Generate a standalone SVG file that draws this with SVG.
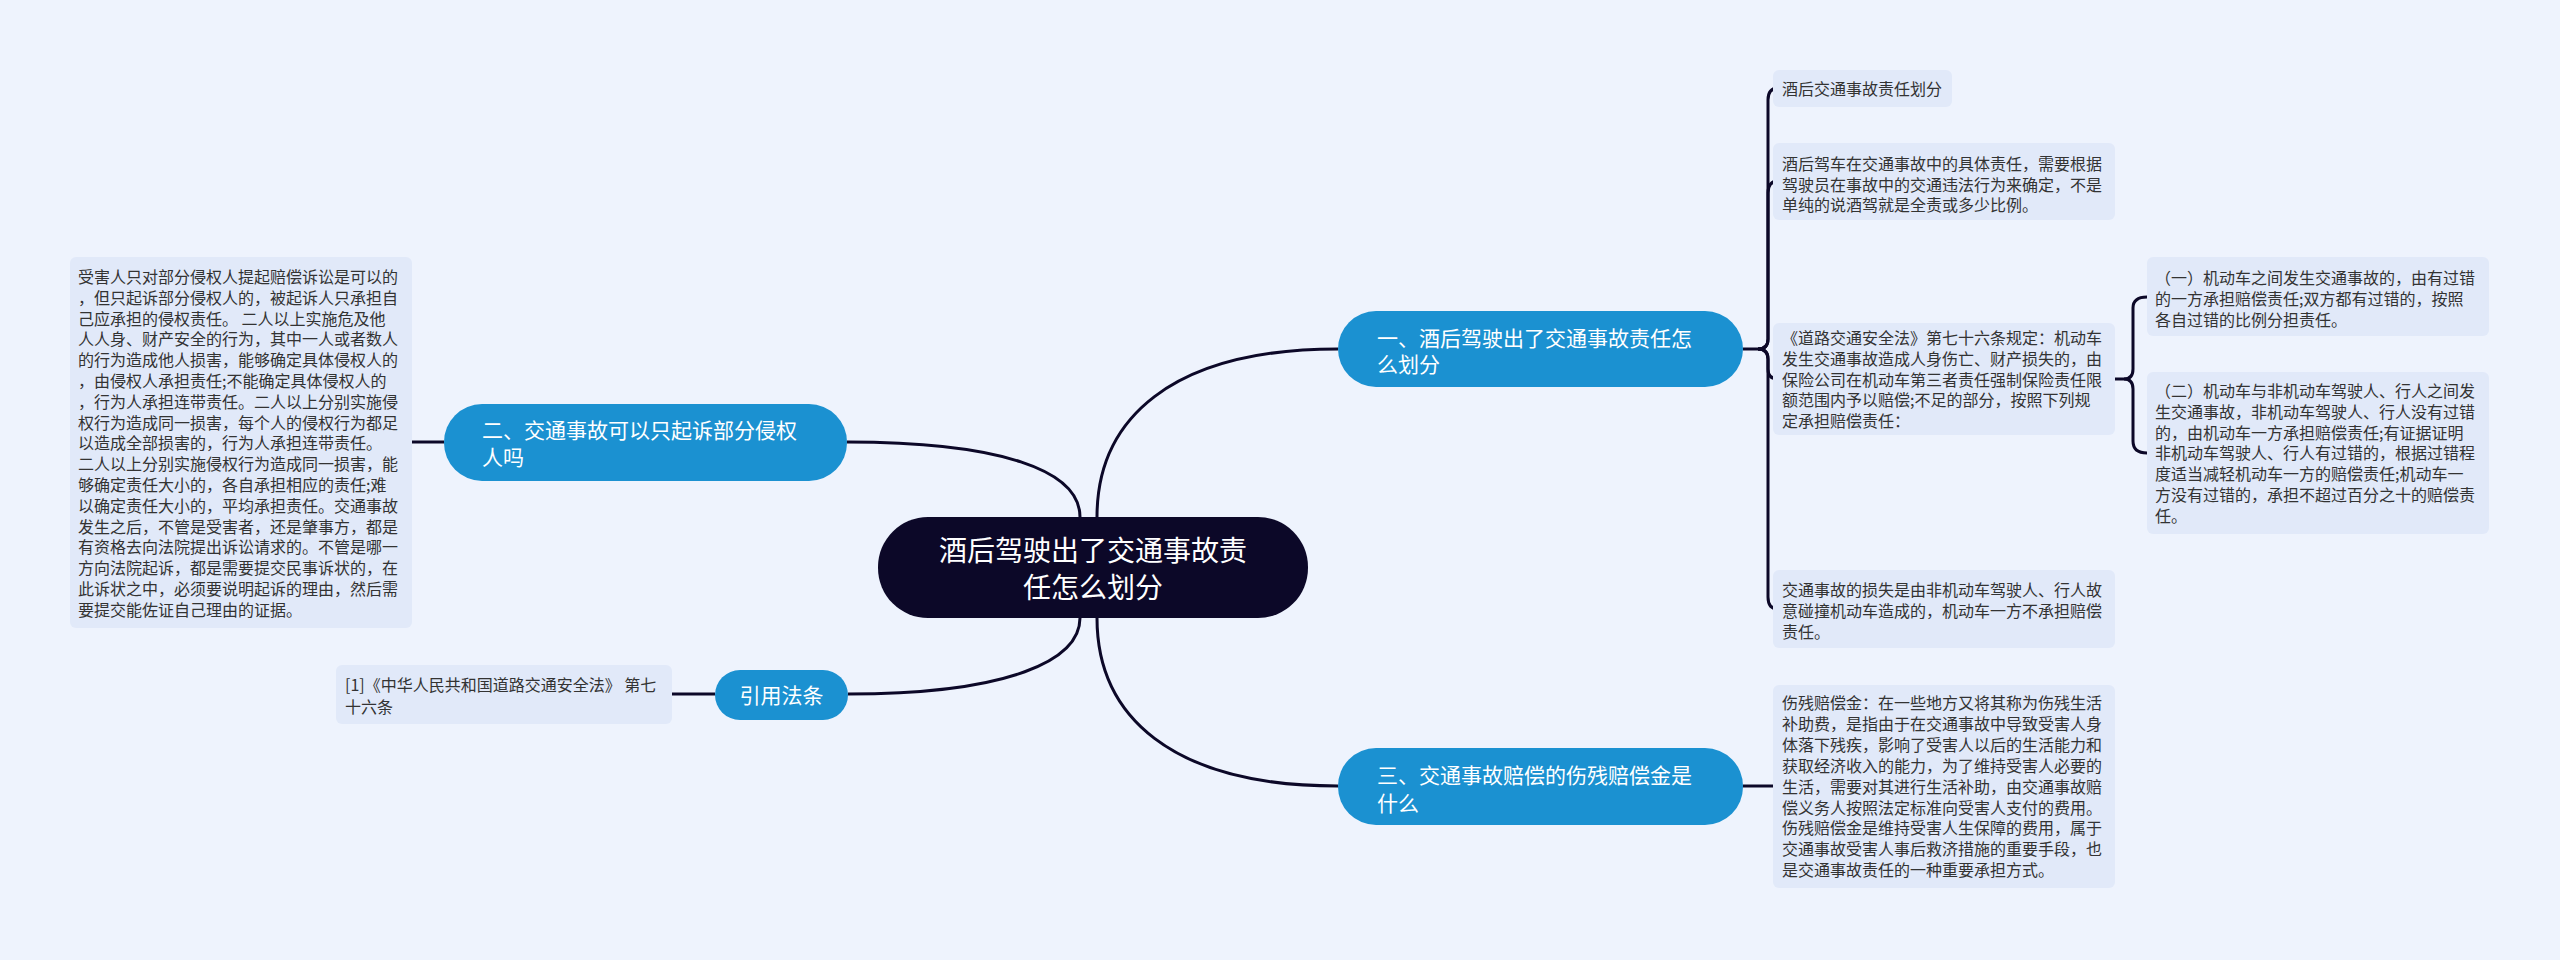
<svg xmlns="http://www.w3.org/2000/svg" width="2560" height="960" viewBox="0 0 2560 960">
<style>
.bg{fill:#eef3fd}
.leaf rect{fill:#e1e9f9}
.leaf text{font-family:"Noto Sans CJK SC","Liberation Sans",sans-serif;font-size:16px;fill:#333333}
.branch rect{fill:#1b91d1}
.branch text{font-family:"Noto Sans CJK SC","Liberation Sans",sans-serif;font-size:21px;fill:#ffffff}
.root rect{fill:#0c0828}
.root text{font-family:"Noto Sans CJK SC","Liberation Sans",sans-serif;font-size:28px;fill:#ffffff;text-anchor:middle}
.conn path{fill:none;stroke:#0c0828;stroke-width:3}
</style>
<rect class="bg" x="0" y="0" width="2560" height="960"/>
<g class="conn">
<path d="M1097,517 C1097,420 1170,349 1338,349"/>
<path d="M1097,618 C1097,715 1170,786 1338,786"/>
<path d="M1080,517 C1080,470 1000,442 847,442"/>
<path d="M1080,618 C1080,660 1010,694 848,694"/>
<path d="M444,442 H412"/>
<path d="M715,694 H672"/>
<path d="M1743,786 H1773"/>
<path d="M1743,349 H1758 Q1768,349 1768,339 V100 Q1768,88 1778,88"/>
<path d="M1758,349 Q1768,349 1768,339 V193 Q1768,181 1778,181"/>
<path d="M1758,349 Q1768,349 1768,359 V369 Q1768,379 1778,379"/>
<path d="M1758,349 Q1768,349 1768,359 V597 Q1768,609 1778,609"/>
<path d="M2115,379 H2124 Q2133,379 2133,369 V308 Q2133,297 2147,297"/>
<path d="M2124,379 Q2133,379 2133,389 V441 Q2133,453 2147,453"/>
</g>
<g id="root" class="root">
<rect x="878" y="517" width="430" height="101" rx="50"/>
<text x="1093" y="561">酒后驾驶出了交通事故责</text>
<text x="1093" y="598">任怎么划分</text>
</g>
<g id="b1" class="branch">
<rect x="1338" y="311" width="405" height="76" rx="38"/>
<text x="1377" y="346">一、酒后驾驶出了交通事故责任怎</text>
<text x="1377" y="372">么划分</text>
</g>
<g id="b2" class="branch">
<rect x="444" y="404" width="403" height="77" rx="38"/>
<text x="482" y="438">二、交通事故可以只起诉部分侵权</text>
<text x="482" y="465">人吗</text>
</g>
<g id="b3" class="branch">
<rect x="1338" y="748" width="405" height="77" rx="38"/>
<text x="1377" y="783">三、交通事故赔偿的伤残赔偿金是</text>
<text x="1377" y="811">什么</text>
</g>
<g id="b4" class="branch">
<rect x="715" y="670" width="133" height="50" rx="25"/>
<text x="781.5" y="703" text-anchor="middle">引用法条</text>
</g>
<g id="leaf-law" class="leaf">
<rect x="336" y="665" width="336" height="59" rx="6"/>
<text x="345" y="691">[1]《中华人民共和国道路交通安全法》 第七</text>
<text x="345" y="713">十六条</text>
</g>
<g id="leaf-left" class="leaf">
<rect x="70" y="257" width="342" height="371" rx="6"/>
<text x="78" y="283">
<tspan x="78" dy="0">受害人只对部分侵权人提起赔偿诉讼是可以的</tspan>
<tspan x="78" dy="20.8">，但只起诉部分侵权人的，被起诉人只承担自</tspan>
<tspan x="78" dy="20.8">己应承担的侵权责任。 二人以上实施危及他</tspan>
<tspan x="78" dy="20.8">人人身、财产安全的行为，其中一人或者数人</tspan>
<tspan x="78" dy="20.8">的行为造成他人损害，能够确定具体侵权人的</tspan>
<tspan x="78" dy="20.8">，由侵权人承担责任;不能确定具体侵权人的</tspan>
<tspan x="78" dy="20.8">，行为人承担连带责任。二人以上分别实施侵</tspan>
<tspan x="78" dy="20.8">权行为造成同一损害，每个人的侵权行为都足</tspan>
<tspan x="78" dy="20.8">以造成全部损害的，行为人承担连带责任。</tspan>
<tspan x="78" dy="20.8">二人以上分别实施侵权行为造成同一损害，能</tspan>
<tspan x="78" dy="20.8">够确定责任大小的，各自承担相应的责任;难</tspan>
<tspan x="78" dy="20.8">以确定责任大小的，平均承担责任。交通事故</tspan>
<tspan x="78" dy="20.8">发生之后，不管是受害者，还是肇事方，都是</tspan>
<tspan x="78" dy="20.8">有资格去向法院提出诉讼请求的。不管是哪一</tspan>
<tspan x="78" dy="20.8">方向法院起诉，都是需要提交民事诉状的，在</tspan>
<tspan x="78" dy="20.8">此诉状之中，必须要说明起诉的理由，然后需</tspan>
<tspan x="78" dy="20.8">要提交能佐证自己理由的证据。</tspan>
</text>
</g>
<g id="leaf-r1" class="leaf">
<rect x="1773" y="70" width="179" height="37" rx="6"/>
<text x="1782" y="95">酒后交通事故责任划分</text>
</g>
<g id="leaf-r2" class="leaf">
<rect x="1773" y="143" width="342" height="77" rx="6"/>
<text x="1782" y="170">
<tspan x="1782" dy="0">酒后驾车在交通事故中的具体责任，需要根据</tspan>
<tspan x="1782" dy="20.5">驾驶员在事故中的交通违法行为来确定，不是</tspan>
<tspan x="1782" dy="20.5">单纯的说酒驾就是全责或多少比例。</tspan>
</text>
</g>
<g id="leaf-r3" class="leaf">
<rect x="1773" y="323" width="342" height="112" rx="6"/>
<text x="1782" y="344">
<tspan x="1782" dy="0">《道路交通安全法》第七十六条规定：机动车</tspan>
<tspan x="1782" dy="20.8">发生交通事故造成人身伤亡、财产损失的，由</tspan>
<tspan x="1782" dy="20.8">保险公司在机动车第三者责任强制保险责任限</tspan>
<tspan x="1782" dy="20.8">额范围内予以赔偿;不足的部分，按照下列规</tspan>
<tspan x="1782" dy="20.8">定承担赔偿责任：</tspan>
</text>
</g>
<g id="leaf-r3a" class="leaf">
<rect x="2147" y="257" width="342" height="79" rx="6"/>
<text x="2155" y="284">
<tspan x="2155" dy="0">（一）机动车之间发生交通事故的，由有过错</tspan>
<tspan x="2155" dy="20.8">的一方承担赔偿责任;双方都有过错的，按照</tspan>
<tspan x="2155" dy="20.8">各自过错的比例分担责任。</tspan>
</text>
</g>
<g id="leaf-r3b" class="leaf">
<rect x="2147" y="372" width="342" height="162" rx="6"/>
<text x="2155" y="397">
<tspan x="2155" dy="0">（二）机动车与非机动车驾驶人、行人之间发</tspan>
<tspan x="2155" dy="20.8">生交通事故，非机动车驾驶人、行人没有过错</tspan>
<tspan x="2155" dy="20.8">的，由机动车一方承担赔偿责任;有证据证明</tspan>
<tspan x="2155" dy="20.8">非机动车驾驶人、行人有过错的，根据过错程</tspan>
<tspan x="2155" dy="20.8">度适当减轻机动车一方的赔偿责任;机动车一</tspan>
<tspan x="2155" dy="20.8">方没有过错的，承担不超过百分之十的赔偿责</tspan>
<tspan x="2155" dy="20.8">任。</tspan>
</text>
</g>
<g id="leaf-r4" class="leaf">
<rect x="1773" y="570" width="342" height="78" rx="6"/>
<text x="1782" y="596">
<tspan x="1782" dy="0">交通事故的损失是由非机动车驾驶人、行人故</tspan>
<tspan x="1782" dy="20.8">意碰撞机动车造成的，机动车一方不承担赔偿</tspan>
<tspan x="1782" dy="20.8">责任。</tspan>
</text>
</g>
<g id="leaf-r5" class="leaf">
<rect x="1773" y="685" width="342" height="203" rx="6"/>
<text x="1782" y="709">
<tspan x="1782" dy="0">伤残赔偿金：在一些地方又将其称为伤残生活</tspan>
<tspan x="1782" dy="20.9">补助费，是指由于在交通事故中导致受害人身</tspan>
<tspan x="1782" dy="20.9">体落下残疾，影响了受害人以后的生活能力和</tspan>
<tspan x="1782" dy="20.9">获取经济收入的能力，为了维持受害人必要的</tspan>
<tspan x="1782" dy="20.9">生活，需要对其进行生活补助，由交通事故赔</tspan>
<tspan x="1782" dy="20.9">偿义务人按照法定标准向受害人支付的费用。</tspan>
<tspan x="1782" dy="20.9">伤残赔偿金是维持受害人生保障的费用，属于</tspan>
<tspan x="1782" dy="20.9">交通事故受害人事后救济措施的重要手段，也</tspan>
<tspan x="1782" dy="20.9">是交通事故责任的一种重要承担方式。</tspan>
</text>
</g>
</svg>
